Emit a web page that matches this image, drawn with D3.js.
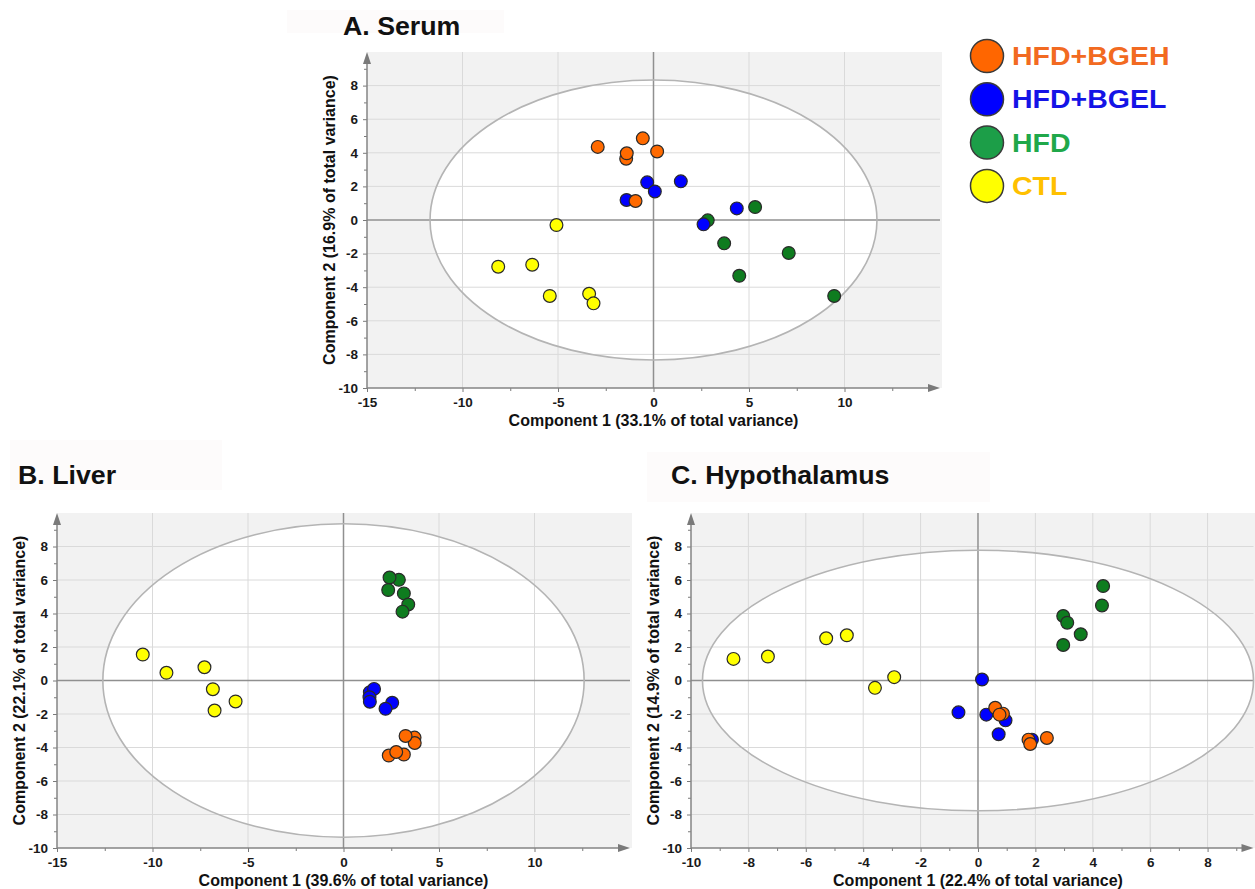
<!DOCTYPE html>
<html>
<head>
<meta charset="utf-8">
<script src="https://cdn.jsdelivr.net/npm/d3@7"></script>
<style>
  body { margin: 0; background: #fff; }
  svg text { font-family: "Liberation Sans", Arial, sans-serif; font-weight: bold; }
</style>
</head>
<body>
<div id="chart"></div>
<script>
// groups, drawn in this order (last on top)
const groups = ["CTL", "HFD", "HFD+BGEL", "HFD+BGEH"];
const pointColors = ["#ffff00", "#0e7c1f", "#0000ff", "#ff6a00"];

// legend (top to bottom)
const legendLabels = ["HFD+BGEH", "HFD+BGEL", "HFD", "CTL"];
const legendFill = ["#ff6600", "#0000ff", "#1c9e48", "#ffff00"];
const legendText = ["#f26a21", "#1414e6", "#20a84a", "#ffc000"];

// A. Serum scores [component 1, component 2]
const serumCTL = [[-5.08, -0.3], [-8.13, -2.78], [-6.35, -2.66], [-5.43, -4.52], [-3.37, -4.39], [-3.14, -4.96]];
const serumHFD = [[2.84, -0.02], [5.32, 0.77], [3.7, -1.39], [7.08, -1.96], [4.49, -3.32], [9.46, -4.52]];
const serumBGEL = [[-1.41, 1.19], [-0.33, 2.24], [0.07, 1.7], [1.43, 2.3], [2.62, -0.26], [4.36, 0.69]];
const serumBGEH = [[-2.92, 4.35], [-1.43, 3.65], [-1.4, 3.97], [-0.56, 4.86], [0.19, 4.08], [-0.94, 1.13]];

// B. Liver scores
const liverCTL = [[-10.51, 1.55], [-9.27, 0.46], [-7.28, 0.79], [-6.84, -0.52], [-6.75, -1.79], [-5.65, -1.25]];
const liverHFD = [[2.9, 6.01], [2.41, 6.15], [2.34, 5.4], [3.16, 5.2], [3.39, 4.54], [3.09, 4.11]];
const liverBGEL = [[1.38, -0.7], [1.6, -0.5], [1.36, -1.0], [1.38, -1.27], [2.55, -1.33], [2.2, -1.69]];
const liverBGEH = [[3.72, -3.41], [3.73, -3.73], [3.25, -3.31], [3.16, -4.42], [2.37, -4.48], [2.76, -4.27]];

// C. Hypothalamus scores
const hypoCTL = [[-8.52, 1.29], [-7.32, 1.43], [-5.29, 2.52], [-4.57, 2.7], [-3.59, -0.44], [-2.92, 0.2]];
const hypoHFD = [[4.36, 5.64], [4.32, 4.48], [2.97, 3.85], [3.11, 3.45], [3.58, 2.76], [2.97, 2.12]];
const hypoBGEL = [[0.14, 0.06], [-0.68, -1.9], [0.29, -2.04], [0.96, -2.38], [0.72, -3.21], [1.88, -3.53]];
const hypoBGEH = [[0.6, -1.63], [0.87, -1.98], [0.75, -2.04], [1.76, -3.53], [1.82, -3.79], [2.4, -3.43]];

// confidence ellipse semi-axes [component 1, component 2]
const serumEllipse = [11.7, 8.33];
const liverEllipse = [12.6, 9.36];
const hypoEllipse = [9.6, 7.78];

// ticks
const wideXTicks = [-15, -10, -5, 0, 5, 10];
const wideXMinor = [-12.5, -7.5, -2.5, 2.5, 7.5, 12.5];
const hypoXTicks = [-10, -8, -6, -4, -2, 0, 2, 4, 6, 8];
const hypoXMinor = [-9, -7, -5, -3, -1, 1, 3, 5, 7, 9];
const yTicks = [-10, -8, -6, -4, -2, 0, 2, 4, 6, 8];
const yMinor = [-9, -7, -5, -3, -1, 1, 3, 5, 7, 9];

const svg = d3.select("#chart")
    .append("svg")
    .attr("width", 1255)
    .attr("height", 889);

function drawPanel(p) {
    const x = d3.scaleLinear().domain(p.xDomain).range([p.left, p.right]);
    const y = d3.scaleLinear().domain([-10, 10]).range([p.bottom, p.top]);
    const g = svg.append("g");

    // faint box behind the title, then the title
    g.append("rect")
        .attr("x", p.titleBox[0]).attr("y", p.titleBox[1])
        .attr("width", p.titleBox[2]).attr("height", p.titleBox[3])
        .attr("fill", "#fdfbfb");
    g.append("text")
        .attr("transform", `translate(${p.titleX},${p.titleY}) scale(1.07,1)`)
        .attr("fill", "#111")
        .style("font-size", "25px")
        .text(p.title);

    // plot background and the white ellipse
    g.append("rect")
        .attr("x", p.left).attr("y", p.top)
        .attr("width", p.right - p.left + 2).attr("height", p.bottom - p.top)
        .attr("fill", "#f2f2f2");
    g.append("ellipse")
        .attr("cx", x(0)).attr("cy", y(0))
        .attr("rx", x(p.ellipse[0]) - x(0)).attr("ry", y(0) - y(p.ellipse[1]))
        .attr("fill", "#fff");

    // grid
    g.selectAll(".vgrid")
        .data(p.xTicks.filter(d => d !== 0 && d !== p.xDomain[0]))
        .enter().append("line")
        .attr("x1", d => x(d)).attr("x2", d => x(d))
        .attr("y1", p.top).attr("y2", p.bottom)
        .attr("stroke", "#dadada").attr("stroke-width", 1);
    g.selectAll(".hgrid")
        .data(yTicks.filter(d => d !== 0 && d !== -10))
        .enter().append("line")
        .attr("x1", p.left).attr("x2", p.right)
        .attr("y1", d => y(d)).attr("y2", d => y(d))
        .attr("stroke", "#dadada").attr("stroke-width", 1);

    // zero lines
    g.append("line")
        .attr("x1", x(0)).attr("x2", x(0)).attr("y1", p.top).attr("y2", p.bottom)
        .attr("stroke", "#909090").attr("stroke-width", 1.5);
    g.append("line")
        .attr("x1", p.left).attr("x2", p.right).attr("y1", y(0)).attr("y2", y(0))
        .attr("stroke", "#909090").attr("stroke-width", 1.5);

    // ellipse outline
    g.append("ellipse")
        .attr("cx", x(0)).attr("cy", y(0))
        .attr("rx", x(p.ellipse[0]) - x(0)).attr("ry", y(0) - y(p.ellipse[1]))
        .attr("fill", "none")
        .attr("stroke", "#b4b4b4").attr("stroke-width", 1.6);

    // axes
    g.append("g")
        .attr("transform", `translate(0,${p.bottom})`)
        .call(d3.axisBottom(x).tickValues(p.xTicks).tickSize(4).tickPadding(5).tickFormat(d => String(d)));
    g.append("g")
        .attr("transform", `translate(0,${p.bottom})`)
        .call(d3.axisBottom(x).tickValues(p.xMinor).tickSize(3).tickFormat(""));
    g.append("g")
        .attr("transform", `translate(${p.left},0)`)
        .call(d3.axisLeft(y).tickValues(yTicks).tickSize(4).tickPadding(5).tickFormat(d => String(d)));
    g.append("g")
        .attr("transform", `translate(${p.left},0)`)
        .call(d3.axisLeft(y).tickValues(yMinor).tickSize(3).tickFormat(""));

    g.selectAll(".domain").remove();
    g.selectAll(".tick line").attr("stroke", "#7a7a7a");
    g.selectAll(".tick text")
        .attr("fill", "#1a1a1a")
        .style("font-size", "13.5px")
        .style("font-family", "'Liberation Sans', Arial, sans-serif")
        .style("font-weight", "bold");

    // axis lines with arrows
    g.append("line")
        .attr("x1", p.left).attr("x2", p.left).attr("y1", p.bottom).attr("y2", p.top + 4)
        .attr("stroke", "#858585").attr("stroke-width", 1.5);
    g.append("line")
        .attr("x1", p.left).attr("x2", p.right - 4).attr("y1", p.bottom).attr("y2", p.bottom)
        .attr("stroke", "#858585").attr("stroke-width", 1.5);
    g.append("path")
        .attr("d", `M${p.left - 4},${p.top + 12}L${p.left},${p.top}L${p.left + 4},${p.top + 12}Z`)
        .attr("fill", "#7a7a7a");
    g.append("path")
        .attr("d", `M${p.right - 12},${p.bottom - 4}L${p.right},${p.bottom}L${p.right - 12},${p.bottom + 4}Z`)
        .attr("fill", "#7a7a7a");

    // axis titles
    g.append("text")
        .attr("x", x(0))
        .attr("y", p.bottom + 38)
        .attr("text-anchor", "middle")
        .attr("fill", "#111")
        .style("font-size", "16px")
        .text(p.xLabel);
    g.append("text")
        .attr("transform", `translate(${p.left - 32},${y(0)}) rotate(-90)`)
        .attr("text-anchor", "middle")
        .attr("fill", "#111")
        .style("font-size", "16px")
        .text(p.yLabel);

    // score points
    p.series.forEach((pts, i) => {
        g.append("g")
            .selectAll("circle")
            .data(pts)
            .enter()
            .append("circle")
            .attr("cx", d => x(d[0]))
            .attr("cy", d => y(d[1]))
            .attr("r", 6.4)
            .attr("fill", pointColors[i])
            .attr("stroke", "#2a2a2a")
            .attr("stroke-width", 1.2);
    });
}

drawPanel({
    title: "A. Serum", titleX: 343, titleY: 35, titleBox: [287, 10, 217, 23],
    left: 367, right: 940, top: 52, bottom: 388,
    xDomain: [-15, 15], xTicks: wideXTicks, xMinor: wideXMinor,
    ellipse: serumEllipse,
    series: [serumCTL, serumHFD, serumBGEL, serumBGEH],
    xLabel: "Component 1 (33.1% of total variance)",
    yLabel: "Component 2 (16.9% of total variance)"
});

drawPanel({
    title: "B. Liver", titleX: 18, titleY: 484, titleBox: [10, 440, 212, 50],
    left: 57, right: 630, top: 513, bottom: 848,
    xDomain: [-15, 15], xTicks: wideXTicks, xMinor: wideXMinor,
    ellipse: liverEllipse,
    series: [liverCTL, liverHFD, liverBGEL, liverBGEH],
    xLabel: "Component 1 (39.6% of total variance)",
    yLabel: "Component 2 (22.1% of total variance)"
});

drawPanel({
    title: "C. Hypothalamus", titleX: 671, titleY: 484, titleBox: [647, 452, 343, 50],
    left: 691, right: 1253.5, top: 513, bottom: 848,
    xDomain: [-10, 9.6], xTicks: hypoXTicks, xMinor: hypoXMinor,
    ellipse: hypoEllipse,
    series: [hypoCTL, hypoHFD, hypoBGEL, hypoBGEH],
    xLabel: "Component 1 (22.4% of total variance)",
    yLabel: "Component 2 (14.9% of total variance)"
});

// legend
const legend = svg.append("g")
    .selectAll("g")
    .data(legendLabels)
    .enter()
    .append("g")
    .attr("transform", (d, i) => `translate(987,${56 + i * 43.3})`);

legend.append("circle")
    .attr("r", 16.5)
    .attr("fill", (d, i) => legendFill[i])
    .attr("stroke", "#3a3a3a")
    .attr("stroke-width", 1.5);

legend.append("text")
    .attr("transform", "translate(25,9) scale(1.14,1)")
    .attr("fill", (d, i) => legendText[i])
    .style("font-size", "25px")
    .text(d => d);
</script>
</body>
</html>
